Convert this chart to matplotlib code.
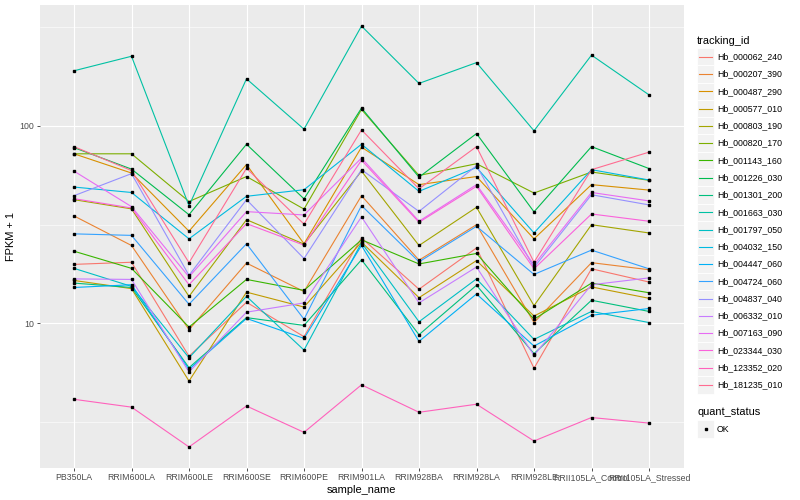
import numpy as np
import matplotlib
matplotlib.use('Agg')
import matplotlib.pyplot as plt
from matplotlib.patches import Rectangle

plt.rcParams['font.family'] = ['Liberation Sans', 'DejaVu Sans']

samples = ["PB350LA", "RRIM600LA", "RRIM600LE", "RRIM600SE", "RRIM600PE", "RRIM901LA",
           "RRIM928BA", "RRIM928LA", "RRIM928LE", "RRII105LA_Control", "RRII105LA_Stressed"]

genes = ["Hb_000062_240", "Hb_000207_390", "Hb_000487_290", "Hb_000577_010", "Hb_000803_190",
         "Hb_000820_170", "Hb_001143_160", "Hb_001226_030", "Hb_001301_200", "Hb_001663_030",
         "Hb_001797_050", "Hb_004032_150", "Hb_004447_060", "Hb_004724_060", "Hb_004837_040",
         "Hb_006332_010", "Hb_007163_090", "Hb_023344_030", "Hb_123352_020", "Hb_181235_010"]

# FPKM + 1, one row per gene, columns follow samples
fpkm1 = [
    [19.9, 20.4, 6.82, 12.8, 8.57, 27.1, 14.9, 24.1, 5.93, 18.9, 16.2],
    [35.0, 24.8, 9.3, 20.2, 14.5, 44.3, 20.9, 31.6, 10.1, 20.3, 18.7],
    [72.2, 57.7, 29.3, 63.7, 25.3, 78.0, 50.4, 55.4, 26.8, 50.4, 47.3],
    [16.5, 15.0, 5.11, 14.4, 12.1, 25.8, 13.5, 20.8, 10.9, 15.3, 13.4],
    [42.3, 38.0, 13.7, 33.5, 25.2, 59.0, 24.8, 38.7, 12.3, 31.6, 28.7],
    [72.2, 72.2, 41.4, 55.4, 37.9, 121.0, 56.1, 64.3, 45.7, 58.4, 53.0],
    [23.2, 19.0, 9.58, 16.7, 14.7, 26.5, 20.0, 22.6, 10.5, 16.0, 14.3],
    [77.6, 60.4, 35.5, 80.7, 42.7, 123.0, 55.0, 91.4, 36.7, 78.5, 60.8],
    [16.0, 15.2, 5.97, 10.7, 9.77, 21.0, 8.77, 15.6, 7.03, 13.1, 11.5],
    [190.0, 225.0, 39.4, 173.0, 96.2, 320.0, 164.0, 209.0, 94.4, 228.0, 143.5],
    [19.0, 15.4, 6.7, 13.7, 7.33, 25.6, 10.2, 16.8, 8.3, 11.5, 10.1],
    [49.0, 46.0, 26.8, 44.0, 47.5, 80.7, 46.6, 61.6, 28.7, 60.0, 53.2],
    [15.2, 15.7, 5.85, 10.6, 8.4, 24.8, 8.11, 14.1, 7.68, 11.0, 11.9],
    [28.4, 27.9, 12.5, 25.3, 10.5, 39.5, 20.5, 31.0, 17.7, 23.5, 18.9],
    [44.3, 57.3, 17.5, 42.3, 21.3, 60.0, 36.9, 62.8, 19.2, 44.8, 39.8],
    [16.8, 16.7, 5.68, 11.4, 12.7, 34.6, 12.7, 19.3, 6.89, 15.7, 17.0],
    [59.0, 39.0, 17.2, 36.8, 35.4, 68.7, 32.9, 50.4, 19.8, 46.0, 41.7],
    [42.8, 38.4, 15.7, 32.0, 24.9, 67.0, 32.5, 49.4, 18.9, 35.8, 32.9],
    [4.13, 3.77, 2.37, 3.82, 2.81, 4.89, 3.55, 3.90, 2.54, 3.34, 3.13],
    [78.5, 59.4, 20.3, 61.0, 31.8, 95.4, 48.0, 78.5, 20.4, 60.0, 73.6],
]

colors = ["#F8766D", "#EA8331", "#D89000", "#C09B00", "#A3A500", "#7CAE00", "#39B600",
          "#00BB4E", "#00BF7D", "#00C1A3", "#00BFC4", "#00BAE0", "#00B0F6", "#35A2FF",
          "#9590FF", "#C77CFF", "#E76BF3", "#FA62DB", "#FF62BC", "#FF6C91"]

W, H = 800, 500
fig = plt.figure(figsize=(8, 5), dpi=100)
ax = fig.add_axes([39.5 / W, 1 - 468 / H, (683.5 - 39.5) / W, (468 - 5) / H])
ax.set_facecolor('#EBEBEB')

x = np.arange(len(samples))
for vals, c in zip(fpkm1, colors):
    ax.plot(x, vals, color=c, lw=0.8, zorder=3)
for vals in fpkm1:
    ax.plot(x, vals, ls='none', marker='s', ms=2.1, color='black', zorder=4)

ax.set_yscale('log')
allv = np.array(fpkm1)
lo, hi = np.log10(allv.min()), np.log10(allv.max())
pad = 0.05 * (hi - lo)
ax.set_ylim(10 ** (lo - pad), 10 ** (hi + pad))
ax.set_xlim(-0.6, len(samples) - 0.4)

ax.set_yticks([10, 100])
ax.set_yticklabels(['10', '100'])
ax.yaxis.set_minor_locator(matplotlib.ticker.NullLocator())
for m in [10 ** 0.5, 10 ** 1.5, 10 ** 2.5]:
    ax.axhline(m, color='white', lw=0.4, zorder=1)
ax.grid(True, which='major', color='white', lw=0.8, zorder=1)
ax.set_axisbelow(True)
ax.set_xticks(x)
ax.set_xticklabels(samples)
ax.tick_params(axis='both', length=2, width=0.6, color='#333333', labelcolor='#4D4D4D',
               labelsize=6.3, pad=1.6)
for s in ax.spines.values():
    s.set_visible(False)

ax.set_xlabel('sample_name', fontsize=7.9, labelpad=2)
ax.set_ylabel('FPKM + 1', fontsize=7.9, labelpad=3)

# legends, drawn in pixel coordinates
lax = fig.add_axes([0, 0, 1, 1], zorder=5)
lax.set_xlim(0, W)
lax.set_ylim(H, 0)
lax.axis('off')

lax.text(697, 41, 'tracking_id', fontsize=7.9, va='center', ha='left')
step = 17.28
for i, (g, c) in enumerate(zip(genes, colors)):
    yc = 56.7 + i * step
    lax.add_patch(Rectangle((697, yc - step / 2), 17, step, facecolor='#F2F2F2',
                            edgecolor='white', lw=0.6))
    lax.plot([699, 712], [yc, yc], color=c, lw=0.8)
    lax.text(717, yc, g, fontsize=6.3, va='center', ha='left')

lax.text(697, 412, 'quant_status', fontsize=7.9, va='center', ha='left')
lax.add_patch(Rectangle((697, 429 - step / 2), 17, step, facecolor='#F2F2F2',
                        edgecolor='white', lw=0.6))
lax.plot([705.5], [429], marker='s', ms=2.1, color='black', ls='none')
lax.text(717, 429, 'OK', fontsize=6.3, va='center', ha='left')

fig.savefig('out.png', dpi=100)
